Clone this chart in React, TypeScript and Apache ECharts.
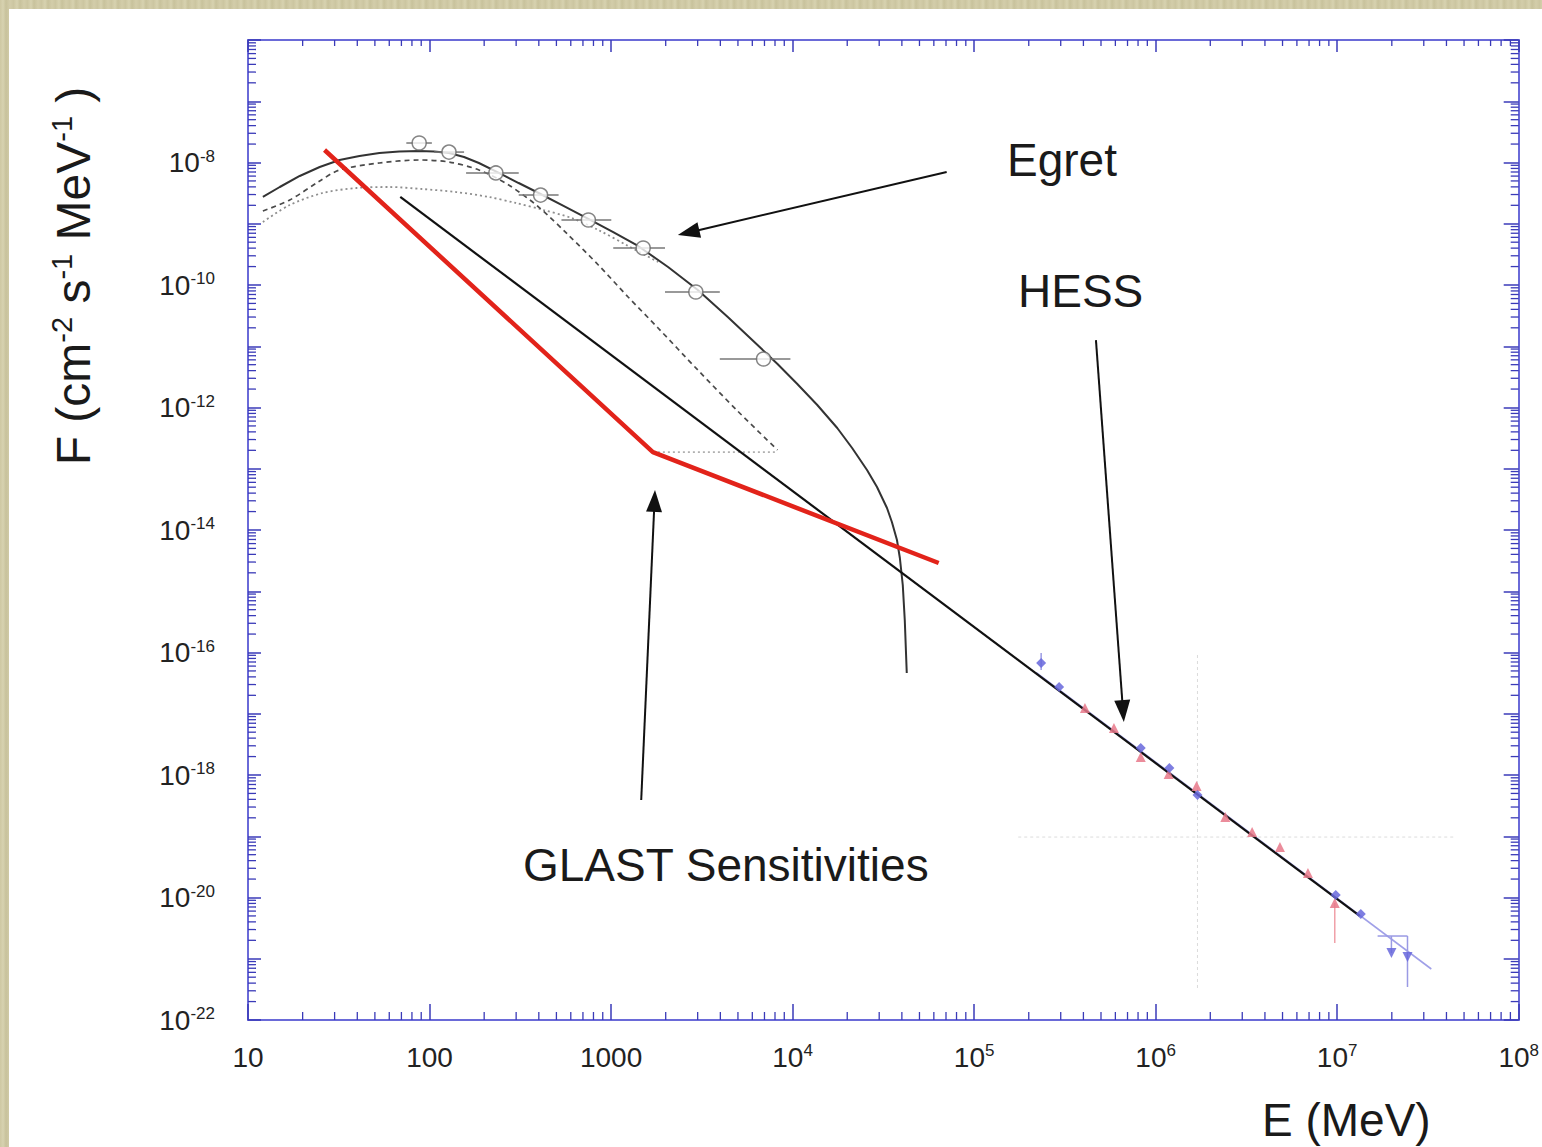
import React, { useEffect, useRef } from 'react';
import * as echarts from 'echarts';

// Energies in MeV, fluxes in cm^-2 s^-1 MeV^-1

// GLAST sensitivity curve
const glastE = [26.4, 1700, 63800];
const glastF = [1.6e-8, 1.87e-13, 2.89e-15];

// Power-law extrapolation of the HESS spectrum
const powerLawE = [69, 1.33e7];
const powerLawF = [2.74e-9, 4.99e-21];

// HESS spectral fit
const hessFitE = [2.2e5, 3.3e7];
const hessFitF = [4.7e-17, 6.8e-22];

// Egret model curves, tabulated as log10 E and log10 F
const egretTotalLogE = [1.082, 1.175, 1.285, 1.395, 1.504, 1.614, 1.724, 1.833, 1.943, 2.025, 2.107, 2.19, 2.272, 2.382, 2.491, 2.601, 2.738, 2.875, 3.012, 3.149, 3.314, 3.478, 3.643, 3.807, 3.917, 4.026, 4.136, 4.246, 4.328, 4.41, 4.465, 4.52, 4.547, 4.575, 4.591, 4.607, 4.618, 4.629];
const egretTotalLogF = [-8.563, -8.4, -8.22, -8.073, -7.959, -7.894, -7.845, -7.82, -7.812, -7.82, -7.845, -7.91, -8.008, -8.171, -8.335, -8.498, -8.71, -8.922, -9.135, -9.363, -9.706, -10.082, -10.522, -10.98, -11.29, -11.616, -11.959, -12.335, -12.661, -13.02, -13.298, -13.641, -13.869, -14.163, -14.457, -14.898, -15.469, -16.335];

const egretDashLogE = [1.082, 1.23, 1.395, 1.504, 1.724, 1.943, 2.107, 2.272, 2.436, 2.601, 2.765, 2.93, 3.094, 3.259, 3.478, 3.697, 3.917];
const egretDashLogF = [-8.792, -8.612, -8.302, -8.122, -8.008, -7.959, -7.992, -8.122, -8.367, -8.727, -9.184, -9.673, -10.196, -10.702, -11.388, -12.057, -12.694];

const egretDotLogE = [1.082, 1.23, 1.411, 1.598, 1.779, 1.959, 2.146, 2.327, 2.475, 2.628, 2.782, 2.93, 3.094, 3.259];
const egretDotLogF = [-8.971, -8.694, -8.498, -8.416, -8.4, -8.433, -8.482, -8.563, -8.661, -8.776, -8.906, -9.102, -9.363, -9.624];

// Floor level at the GLAST break
const floorE = [1700, 8260];
const floorF = [1.87e-13, 1.87e-13];

// Egret measurements with energy bins
const egretE = [87.7, 128, 232, 409, 750, 1503, 2931, 6918];
const egretF = [2.08e-8, 1.48e-8, 6.75e-9, 2.94e-9, 1.15e-9, 4.02e-10, 7.69e-11, 6.19e-12];
const egretLoE = [74.5, 106, 159, 310, 533, 1028, 1982, 3972];
const egretHiE = [103, 155, 310, 514, 1003, 1982, 3972, 9727];

// HESS measurements, two data sets
const hessBlueE = [2.34e5, 2.94e5, 8.28e5, 1.19e6, 1.7e6, 9.82e6, 1.35e7];
const hessBlueF = [6.75e-17, 2.74e-17, 2.76e-18, 1.3e-18, 4.71e-19, 1.1e-20, 5.38e-21];
const hessRedE = [4.08e5, 5.89e5, 8.28e5, 1.18e6, 1.68e6, 2.42e6, 3.4e6, 4.84e6, 6.9e6, 9.7e6];
const hessRedF = [1.24e-17, 5.85e-18, 1.97e-18, 1.04e-18, 6.6e-19, 2.06e-19, 1.17e-19, 6.67e-20, 2.51e-20, 8.13e-21];
const hessLimitE = [1.99e7, 2.44e7];
const hessLimitF = [1.24e-21, 1.07e-21];

// Vertical error bars: [E, F low, F high]
const blueErrBars = [
  [2.34e5, 5.2e-17, 9.8e-17],
  [1.99e7, 1.24e-21, 2.35e-21],
  [2.44e7, 3.46e-22, 2.35e-21],
];
const redErrBars = [[9.7e6, 1.81e-21, 8.13e-21]];
// Horizontal bar over the upper limits: [E low, E high, F]
const limitBar = [[1.67e7, 2.44e7, 2.35e-21]];

// Faint reference cross
const crossVE = [1.7e6, 1.7e6];
const crossVF = [9.1e-17, 3.1e-22];
const crossHE = [1.75e5, 4.42e7];
const crossHF = [9.7e-20, 9.7e-20];

// Annotation arrows: [E tail, F tail, E head, F head]
const arrows = [
  [70600, 7.0e-9, 2333, 6.55e-10],
  [4.69e5, 1.26e-11, 6.68e5, 7.33e-18],
  [1466, 3.9e-19, 1746, 4.5e-14],
];

// Axis ranges, as decades
const xDecades = [1, 8];
const yDecades = [-22, -6];

const FONT = '"Liberation Sans", Arial, Helvetica, sans-serif';
const AXIS_COLOR = '#6a6ad8';
const TICK_COLOR = '#3a3ab8';

const L = (v: number) => Math.log10(v);
const pairs = (xs: number[], ys: number[]) => xs.map((x, i) => [L(x), L(ys[i])]);
const zip = (xs: number[], ys: number[]) => xs.map((x, i) => [x, ys[i]]);

// Logarithmic minor tick positions (2..9 within each decade)
const minorTicks = (from: number, to: number) => {
  const out: number[] = [];
  for (let n = from; n < to; n++) {
    for (let k = 2; k <= 9; k++) out.push(n + Math.log10(k));
  }
  return out;
};

export default function App() {
  const ref = useRef<HTMLDivElement>(null);

  useEffect(() => {
    if (!ref.current) return;
    const chart = echarts.init(ref.current, undefined, { renderer: 'svg' });

    const [x0, x1] = xDecades;
    const [y0, y1] = yDecades;

    const tickData: number[][] = [];
    minorTicks(x0, x1).forEach((v) => {
      tickData.push([v, 0]);
      tickData.push([v, 1]);
    });
    minorTicks(y0, y1).forEach((v) => {
      tickData.push([v, 2]);
      tickData.push([v, 3]);
    });

    const xLabel = (v: number) => {
      const n = Math.round(v);
      if (n === 1) return '{b|10}';
      if (n === 2) return '{b|100}';
      if (n === 3) return '{b|1000}';
      return `{b|10}{s|${n}}`;
    };
    const yLabel = (v: number) => {
      const n = Math.round(v);
      if (n % 2 !== 0 || n > -8) return '';
      return `{b|10}{s|${n}}`;
    };
    const labelRich = {
      b: { fontSize: 28, fontFamily: FONT, color: '#222', lineHeight: 30 },
      s: { fontSize: 17, fontFamily: FONT, color: '#222', verticalAlign: 'top', lineHeight: 17 },
    };

    const lineSeries = (data: number[][], style: any, extra: any = {}) => ({
      type: 'line',
      data,
      symbol: 'none',
      silent: true,
      lineStyle: style,
      ...extra,
    });

    chart.setOption({
      animation: false,
      backgroundColor: 'transparent',
      grid: { left: 248, top: 40, width: 1277, height: 980, containLabel: false },
      xAxis: [
        {
          type: 'value',
          min: x0,
          max: x1,
          interval: 1,
          position: 'bottom',
          axisLine: { show: true, lineStyle: { color: AXIS_COLOR, width: 2 } },
          axisTick: { show: true, inside: true, length: 16, lineStyle: { color: TICK_COLOR, width: 1.5 } },
          axisLabel: { formatter: xLabel, rich: labelRich, margin: 22, showMinLabel: true, showMaxLabel: true },
          splitLine: { show: false },
        },
        {
          type: 'value',
          min: x0,
          max: x1,
          interval: 1,
          position: 'top',
          axisLine: { show: true, lineStyle: { color: AXIS_COLOR, width: 2 } },
          axisTick: { show: true, inside: true, length: 12, lineStyle: { color: TICK_COLOR, width: 1.5 } },
          axisLabel: { show: false },
          splitLine: { show: false },
        },
      ],
      yAxis: [
        {
          type: 'value',
          min: y0,
          max: y1,
          interval: 1,
          position: 'left',
          axisLine: { show: true, lineStyle: { color: AXIS_COLOR, width: 2 } },
          axisTick: { show: true, inside: true, length: 13, lineStyle: { color: TICK_COLOR, width: 1.5 } },
          axisLabel: { formatter: yLabel, rich: labelRich, margin: 33, showMinLabel: true, showMaxLabel: true },
          splitLine: { show: false },
        },
        {
          type: 'value',
          min: y0,
          max: y1,
          interval: 1,
          position: 'right',
          axisLine: { show: true, lineStyle: { color: AXIS_COLOR, width: 2 } },
          axisTick: { show: true, inside: true, length: 15, lineStyle: { color: TICK_COLOR, width: 1.5 } },
          axisLabel: { show: false },
          splitLine: { show: false },
        },
      ],
      series: [
        // logarithmic minor ticks on all four sides
        {
          type: 'custom',
          silent: true,
          data: tickData,
          renderItem: (_p: any, api: any) => {
            const v = api.value(0);
            const side = api.value(1);
            let pt: number[];
            let shape: any;
            if (side === 0) {
              pt = api.coord([v, y0]);
              shape = { x1: pt[0], y1: pt[1], x2: pt[0], y2: pt[1] - 8 };
            } else if (side === 1) {
              pt = api.coord([v, y1]);
              shape = { x1: pt[0], y1: pt[1], x2: pt[0], y2: pt[1] + 6 };
            } else if (side === 2) {
              pt = api.coord([x0, v]);
              shape = { x1: pt[0], y1: pt[1], x2: pt[0] + 8, y2: pt[1] };
            } else {
              pt = api.coord([x1, v]);
              shape = { x1: pt[0], y1: pt[1], x2: pt[0] - 8, y2: pt[1] };
            }
            return { type: 'line', shape, style: { stroke: TICK_COLOR, lineWidth: 1.3 } };
          },
          z: 1,
        },
        lineSeries(pairs(crossVE, crossVF), { color: '#dcdcdc', width: 1, type: [3, 3] }),
        lineSeries(pairs(crossHE, crossHF), { color: '#dcdcdc', width: 1, type: [3, 3] }),
        lineSeries(pairs(floorE, floorF), { color: '#b0b0b0', width: 1.6, type: [2, 3] }),
        lineSeries(zip(egretDotLogE, egretDotLogF), { color: '#8e8e8e', width: 1.8, type: [2, 3] }, { smooth: 0.3 }),
        lineSeries(zip(egretDashLogE, egretDashLogF), { color: '#4a4a4a', width: 1.7, type: [5, 4] }, { smooth: 0.3 }),
        lineSeries(zip(egretTotalLogE, egretTotalLogF), { color: '#333', width: 2 }),
        lineSeries(pairs(hessFitE, hessFitF), { color: '#a0a0e8', width: 1.6 }),
        lineSeries(pairs(powerLawE, powerLawF), { color: '#111', width: 2.2 }),
        lineSeries(pairs(glastE, glastF), { color: '#e2231a', width: 4.5 }, { z: 4 }),
        // Egret energy bins
        {
          type: 'custom',
          silent: true,
          data: egretE.map((_, i) => [L(egretLoE[i]), L(egretF[i]), L(egretHiE[i])]),
          renderItem: (_p: any, api: any) => {
            const a = api.coord([api.value(0), api.value(1)]);
            const b = api.coord([api.value(2), api.value(1)]);
            return { type: 'line', shape: { x1: a[0], y1: a[1], x2: b[0], y2: b[1] }, style: { stroke: '#777', lineWidth: 1.5 } };
          },
          z: 5,
        },
        {
          type: 'scatter',
          silent: true,
          data: pairs(egretE, egretF),
          symbol: 'circle',
          symbolSize: 14,
          itemStyle: { color: '#fff', borderColor: '#666', borderWidth: 1.5 },
          z: 6,
        },
        // HESS error bars
        {
          type: 'custom',
          silent: true,
          data: [
            ...blueErrBars.map((d) => [L(d[0]), L(d[1]), L(d[2]), 0]),
            ...redErrBars.map((d) => [L(d[0]), L(d[1]), L(d[2]), 1]),
          ],
          renderItem: (_p: any, api: any) => {
            const a = api.coord([api.value(0), api.value(1)]);
            const b = api.coord([api.value(0), api.value(2)]);
            const color = api.value(3) === 1 ? '#f0a0a8' : '#9a9ae4';
            return { type: 'line', shape: { x1: a[0], y1: a[1], x2: b[0], y2: b[1] }, style: { stroke: color, lineWidth: 1.5 } };
          },
          z: 5,
        },
        {
          type: 'custom',
          silent: true,
          data: limitBar.map((d) => [L(d[0]), L(d[2]), L(d[1])]),
          renderItem: (_p: any, api: any) => {
            const a = api.coord([api.value(0), api.value(1)]);
            const b = api.coord([api.value(2), api.value(1)]);
            return { type: 'line', shape: { x1: a[0], y1: a[1], x2: b[0], y2: b[1] }, style: { stroke: '#9a9ae4', lineWidth: 1.5 } };
          },
          z: 5,
        },
        {
          type: 'scatter',
          silent: true,
          data: pairs(hessRedE, hessRedF),
          symbol: 'triangle',
          symbolSize: 10,
          itemStyle: { color: '#e8788a', opacity: 0.85 },
          z: 6,
        },
        {
          type: 'scatter',
          silent: true,
          data: pairs(hessBlueE, hessBlueF),
          symbol: 'diamond',
          symbolSize: 10,
          itemStyle: { color: '#6767dc', opacity: 0.85 },
          z: 6,
        },
        {
          type: 'scatter',
          silent: true,
          data: pairs(hessLimitE, hessLimitF),
          symbol: 'triangle',
          symbolRotate: 180,
          symbolSize: 10,
          itemStyle: { color: '#6767dc', opacity: 0.85 },
          z: 6,
        },
        // annotation arrows
        {
          type: 'custom',
          silent: true,
          data: arrows.map((d) => [L(d[0]), L(d[1]), L(d[2]), L(d[3])]),
          renderItem: (_p: any, api: any) => {
            const a = api.coord([api.value(0), api.value(1)]);
            const b = api.coord([api.value(2), api.value(3)]);
            const dx = b[0] - a[0];
            const dy = b[1] - a[1];
            const len = Math.hypot(dx, dy);
            const ux = dx / len;
            const uy = dy / len;
            const hl = 22;
            const hw = 8;
            const bx = b[0] - ux * hl;
            const by = b[1] - uy * hl;
            return {
              type: 'group',
              children: [
                { type: 'line', shape: { x1: a[0], y1: a[1], x2: bx + ux * 2, y2: by + uy * 2 }, style: { stroke: '#111', lineWidth: 2 } },
                {
                  type: 'polygon',
                  shape: { points: [[b[0], b[1]], [bx - uy * hw, by + ux * hw], [bx + uy * hw, by - ux * hw]] },
                  style: { fill: '#111' },
                },
              ],
            };
          },
          z: 7,
        },
      ],
      graphic: [
        {
          type: 'text',
          x: 73,
          y: 276,
          rotation: Math.PI / 2,
          style: {
            text: '{b|F (cm}{s|-2}{b| s}{s|-1}{b| MeV}{s|-1}{b| )}',
            align: 'center',
            verticalAlign: 'middle',
            rich: {
              b: { fontSize: 48, fontFamily: FONT, fill: '#1a1a1a', lineHeight: 52 },
              s: { fontSize: 29, fontFamily: FONT, fill: '#1a1a1a', verticalAlign: 'top', lineHeight: 28 },
            },
          },
        },
        {
          type: 'text',
          x: 1262,
          y: 1120,
          style: { text: 'E (MeV)', fontSize: 46, fontFamily: FONT, fill: '#1a1a1a', align: 'left', verticalAlign: 'middle' },
        },
        {
          type: 'text',
          x: 1007,
          y: 160,
          style: { text: 'Egret', fontSize: 46, fontFamily: FONT, fill: '#1a1a1a', align: 'left', verticalAlign: 'middle' },
        },
        {
          type: 'text',
          x: 1018,
          y: 291,
          style: { text: 'HESS', fontSize: 46, fontFamily: FONT, fill: '#1a1a1a', align: 'left', verticalAlign: 'middle' },
        },
        {
          type: 'text',
          x: 523,
          y: 865,
          style: { text: 'GLAST Sensitivities', fontSize: 46, fontFamily: FONT, fill: '#1a1a1a', align: 'left', verticalAlign: 'middle' },
        },
      ],
    });

    return () => chart.dispose();
  }, []);

  return (
    <div
      style={{
        position: 'absolute',
        left: 0,
        top: 0,
        width: 1542,
        height: 1147,
        overflow: 'hidden',
        background:
          'repeating-linear-gradient(90deg, #cec8a3 0px, #d7d2b0 3px, #c8c29c 6px, #d3cdaa 10px, #cbc5a0 14px)',
      }}
    >
      <div style={{ position: 'absolute', left: 9, top: 9, right: 0, bottom: 0, background: '#fff' }} />
      <div ref={ref} style={{ position: 'absolute', left: 0, top: 0, width: 1542, height: 1147 }} />
    </div>
  );
}
